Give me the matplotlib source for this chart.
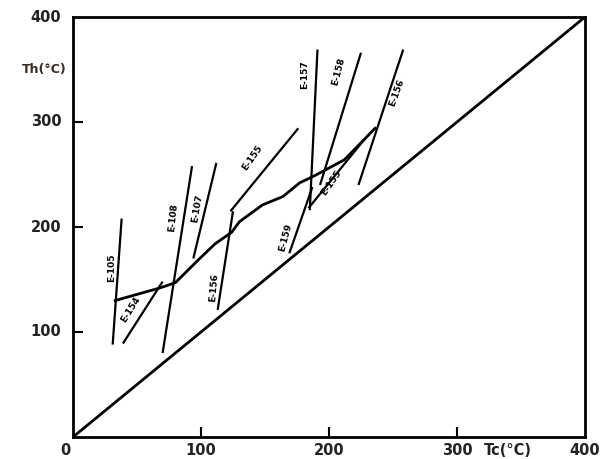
import matplotlib
matplotlib.use("Agg")
import matplotlib.pyplot as plt

# Inclusion lines (Tc, Th) endpoints
line_names = ["E-105", "E-154", "E-108", "E-107", "E-156a", "E-155a",
              "E-159", "E-157", "E-158", "E-155b", "E-156b"]
line_tc = [[38, 31], [39, 70], [93, 70], [112, 94], [125, 113], [123, 176],
           [169, 187], [191, 185], [225, 193], [184, 228], [258, 223]]
line_th = [[208, 88], [89, 148], [258, 80], [261, 170], [215, 121], [215, 294],
           [175, 238], [369, 216], [366, 240], [218, 284], [369, 240]]

# Main trend curve
curve_tc = [33, 68, 80, 99, 111, 124, 130, 148, 164, 177, 189, 212, 236]
curve_th = [130, 142, 147, 170, 184, 195, 205, 221, 229, 242, 249, 264, 294]

# Labels
label_text = ["E-105", "E-154", "E-108", "E-107", "E-156", "E-155",
              "E-159", "E-157", "E-158", "E-155", "E-156"]
label_tc = [30, 45, 78, 97, 110, 140, 166, 181, 207, 202, 253]
label_th = [161, 121, 209, 218, 142, 266, 190, 345, 348, 242, 328]
label_rot = [90, 58, 84, 80, 85, 55, 75, 90, 75, 55, 70]

diag = [0, 400]
xticks = [100, 200, 300]
yticks = [100, 200, 300]

fig = plt.figure(figsize=(6.03, 4.59), dpi=100)
ax = fig.add_axes([73 / 603, 22 / 459, 512 / 603, 420 / 459])
ax.set_xlim(0, 400)
ax.set_ylim(0, 400)

for s in ax.spines.values():
    s.set_linewidth(2.0)
    s.set_color("black")

ax.plot(diag, diag, color="black", lw=2.0)
for tc, th in zip(line_tc, line_th):
    ax.plot(tc, th, color="black", lw=1.6, solid_capstyle="butt")
ax.plot(curve_tc, curve_th, color="black", lw=2.0)

for t, x, y, r in zip(label_text, label_tc, label_th, label_rot):
    ax.text(x, y, t, rotation=r, ha="center", va="center", fontsize=6.5,
            fontweight="bold", color="black")

ax.set_xticks(xticks)
ax.set_yticks(yticks)
ax.set_xticklabels([])
ax.set_yticklabels([])
ax.tick_params(direction="in", length=7, width=1.5, color="black")

tick_kw = dict(fontsize=10.5, color="#222222", fontweight="bold")
for v in [100, 200, 300]:
    ax.text(-9, v, str(v), ha="right", va="center", transform=ax.transData,
            clip_on=False, **tick_kw)
ax.text(-9, 400, "400", ha="right", va="center", clip_on=False, **tick_kw)
ax.text(-6, -6, "0", ha="center", va="top", clip_on=False, **tick_kw)
for v in [100, 200, 300]:
    ax.text(v, -6, str(v), ha="center", va="top", clip_on=False, **tick_kw)
ax.text(400, -6, "400", ha="center", va="top", clip_on=False, **tick_kw)
ax.text(340, -6, "Tc(°C)", ha="center", va="top", clip_on=False, **tick_kw)
ax.text(-5, 350, "Th(°C)", ha="right", va="center", clip_on=False,
        fontsize=9, fontweight="bold", color="#3a2a20")

fig.savefig("out.png", dpi=100)
